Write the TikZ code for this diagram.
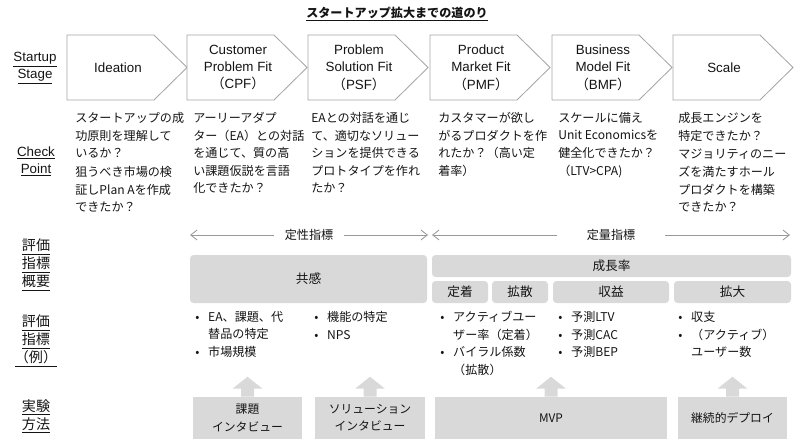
\documentclass[tikz,border=0pt]{standalone}
\usepackage{fontspec}
\setmainfont{Liberation Sans}
\newfontfamily\jp{Noto Sans CJK JP}
\usetikzlibrary{arrows.meta, positioning, calc}

\begin{document}
\begin{tikzpicture}[x=0.025cm, y=-0.025cm]
  \newcommand\stagewidth{87}
  \newcommand\stagetip{33}
  \newcommand\bul{\makebox[9.2pt][l]{•}}
  \newcommand\ind{\hspace*{9.2pt}}

  \tikzset{generaltext/.style={text=black!92, inner sep=0pt}}
  \tikzset{jptext/.style={generaltext, font=\jp\fontsize{8.6}{12.5}\selectfont, align=left}}
  \tikzset{rowlabel/.style={generaltext, font=\fontsize{9.5}{12.4}\selectfont, align=center}}
  \tikzset{rowlabeljp/.style={generaltext, font=\jp\fontsize{10}{12.8}\selectfont, align=center}}
  \tikzset{stageshape/.style={draw=black!35, line width=0.6pt, fill=white}}
  \tikzset{stagetext/.style={generaltext, font=\fontsize{9.5}{12.4}\selectfont, align=center}}
  \tikzset{graybox/.style={generaltext, fill=black!15, rounded corners=2.5pt, font=\jp\fontsize{9}{11}\selectfont}}
  \tikzset{methodbox/.style={generaltext, fill=black!15, font=\jp\fontsize{8.4}{12.2}\selectfont, align=center}}
  \tikzset{scalearrow/.style={draw=black!40, line width=0.6pt, {Straight Barb[length=4.5pt,width=7pt]}-{Straight Barb[length=4.5pt,width=7pt]}}}
  \tikzset{uparrow/.style={fill=black!15}}

  \useasboundingbox (0,0) rectangle (800,440);

  \node[jptext, font=\jp\bfseries\fontsize{8.6}{10}\selectfont] (title) at (397,14) {\underline{スタートアップ拡大までの道のり}};

  % row labels
  \node[rowlabel] (lstage) at (35,68) {\underline{Startup}\\\underline{Stage}};
  \node[rowlabel] (lcheck) at (36,161.5) {\underline{Check}\\\underline{Point}};
  \node[rowlabeljp] (lsummary) at (36,265) {\underline{評価}\\\underline{指標}\\\underline{概要}};
  \node[rowlabeljp] (lexample) at (36,341) {\underline{評価}\\\underline{指標}\\\underline{（例）}};
  \node[rowlabeljp] (lmethod) at (36,416.5) {\underline{実験}\\\underline{方法}};

  \foreach \x/\lbl [count=\i] in {67/Ideation, 187/{Customer\\Problem Fit\\{\jp （}CPF{\jp ）}}, 308/{Problem\\Solution Fit\\{\jp （}PSF{\jp ）}}, 430/{Product\\Market Fit\\{\jp （}PMF{\jp ）}}, 552/{Business\\Model Fit\\{\jp （}BMF{\jp ）}}, 673/Scale}{
    \draw[stageshape] (\x,35) -- ++(\stagewidth,0) -- ++(\stagetip,32.5) -- ++(-\stagetip,32.5) -- ++(-\stagewidth,0) -- cycle;
    \node[stagetext] (st\i) at (\x+51,67.5) {\lbl};
  }

  \foreach \x/\txt [count=\i] in {75/{スタートアップの成\\功原則を理解して\\いるか？\\[1pt]狙うべき市場の検\\証しPlan Aを作成\\できたか？}, 193/{アーリーアダプ\\ター（EA）との対話\\を通じて、質の高\\い課題仮説を言語\\化できたか？}, 311/{EAとの対話を通じ\\て、適切なソリュー\\ションを提供できる\\プロトタイプを作れ\\たか？}, 438/{カスタマーが欲し\\がるプロダクトを作\\れたか？（高い定\\着率）}, 558/{スケールに備え\\Unit Economicsを\\健全化できたか？\\（LTV>CPA)}, 678/{成長エンジンを\\特定できたか？\\[1pt]マジョリティのニー\\ズを満たすホール\\プロダクトを構築\\できたか？}}{
    \node[jptext, anchor=north west] (cp\i) at (\x,112) {\txt};
  }

  \coordinate (qlleft) at (190,235);
  \coordinate (qlright) at (428,235);
  \coordinate (qnleft) at (432,235);
  \coordinate (qnright) at (790,235);
  \draw[scalearrow] (qlleft) -- node[jptext, fill=white, inner xsep=8pt, inner ysep=2pt] (qltext) {定性指標} (qlright);
  \draw[scalearrow] (qnleft) -- node[jptext, fill=white, inner xsep=21pt, inner ysep=2pt] (qntext) {定量指標} (qnright);

  \foreach \name/\xa/\ya/\xb/\yb/\lbl in {mempathy/190/255/427/303/共感, mgrowth/432/255/791/277/成長率, mretain/432/281/488/303/定着, mspread/492/281/548/303/拡散, mrevenue/553/281/669/303/収益, mscale/674/281/791/303/拡大}{
    \node[graybox, minimum width={(\xb-\xa)*0.025cm}, minimum height={(\yb-\ya)*0.025cm}] (\name) at ({(\xa+\xb)/2},{(\ya+\yb)/2}) {\lbl};
  }

  \foreach \x/\txt [count=\i] in {195/{\bul EA、課題、代\\\ind 替品の特定\\\bul 市場規模}, 314/{\bul 機能の特定\\\bul NPS}, 440/{\bul アクティブユー\\\ind ザー率（定着）\\\bul バイラル係数\\\ind （拡散）}, 558/{\bul 予測LTV\\\bul 予測CAC\\\bul 予測BEP}, 678/{\bul 収支\\\bul （アクティブ）\\\ind ユーザー数}}{
    \node[jptext, anchor=north west] (ex\i) at (\x,311) {\txt};
  }

  \foreach \name/\xa/\xb/\lbl in {minterview/193/302/{課題\\インタビュー}, msolution/315/425/{ソリューション\\インタビュー}, mmvp/435/667/MVP, mdeploy/678/787/継続的デプロイ}{
    \node[methodbox, minimum width={(\xb-\xa)*0.025cm}, minimum height={42*0.025cm}] (\name) at ({(\xa+\xb)/2},418) {\lbl};
    \fill[uparrow] (\name.north) ++(-6.5,0) -- ++(0,-8) -- ++(-8.5,0) -- ++(15,-12) -- ++(15,12) -- ++(-8.5,0) -- ++(0,8) -- cycle;
  }
\end{tikzpicture}
\end{document}
